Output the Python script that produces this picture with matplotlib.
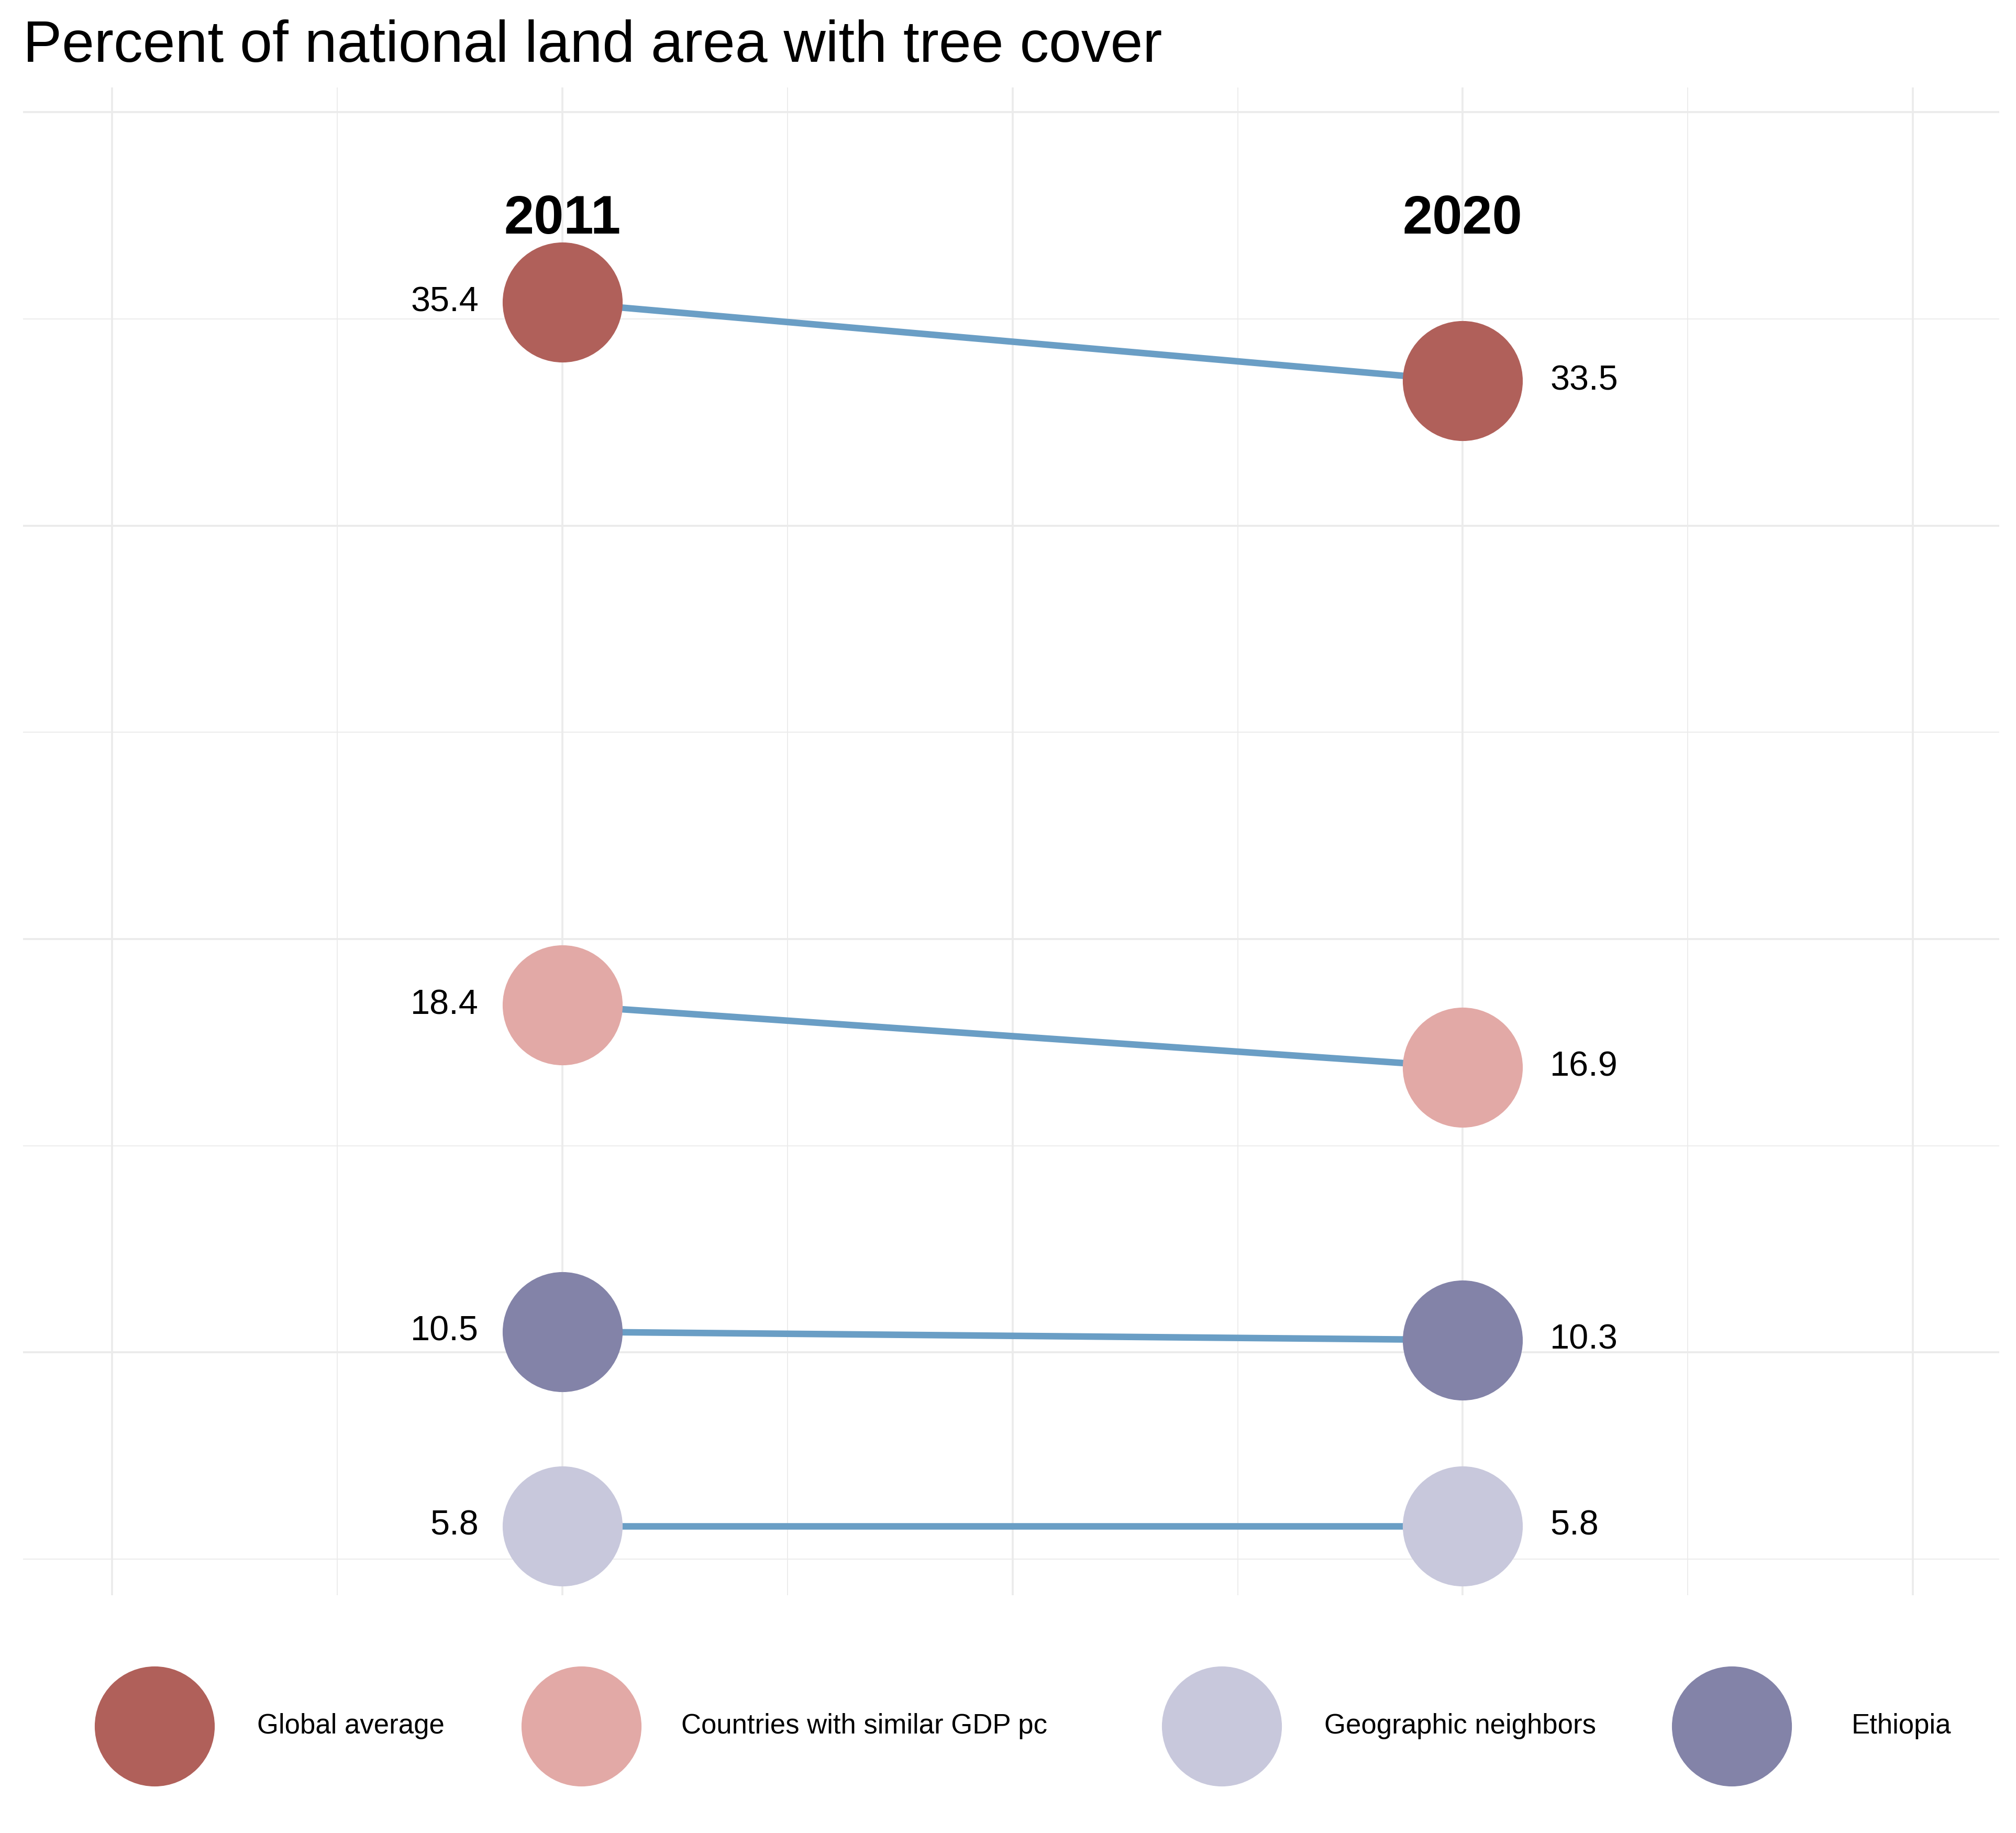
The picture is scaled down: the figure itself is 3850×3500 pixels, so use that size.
import matplotlib
matplotlib.use("Agg")
import matplotlib.pyplot as plt

plt.rcParams['font.family'] = ['Liberation Sans', 'DejaVu Sans']

groups = ["Global average", "Countries with similar GDP pc", "Geographic neighbors", "Ethiopia"]
colors = ["#b0605a", "#e2a9a6", "#c8c8dc", "#8383a8"]
years = ["2011", "2020"]
v2011 = [35.4, 18.4, 5.8, 10.5]
v2020 = [33.5, 16.9, 5.8, 10.3]

W, H = 3850, 3500
fig = plt.figure(figsize=(W/100, H/100), dpi=100)
ax = fig.add_axes([18/1568, 1-1240/1425, (1555-18)/1568, (1240-68)/1425])
ax.set_xlim(0.401, 2.596)
ax.set_ylim(4.13, 40.6)
for s in ax.spines.values():
    s.set_visible(False)
ax.set_xticks([])
ax.set_yticks([])
for x in [0.5, 1, 1.5, 2, 2.5]:
    ax.axvline(x, color="#ebebeb", lw=2.7, zorder=0)
for x in [0.75, 1.25, 1.75, 2.25]:
    ax.axvline(x, color="#ebebeb", lw=1.3, zorder=0)
for y in [10, 20, 30, 40]:
    ax.axhline(y, color="#ebebeb", lw=2.7, zorder=0)
for y in [5, 15, 25, 35]:
    ax.axhline(y, color="#ebebeb", lw=1.3, zorder=0)

for g, c, a, b in zip(groups, colors, v2011, v2020):
    ax.plot([1, 2], [a, b], color="#6a9ec5", lw=9, zorder=2, solid_capstyle="butt")
    ax.scatter([1, 2], [a, b], s=165**2, color=c, zorder=3, linewidths=0)
    ax.text(0.907, a, f"{a:.1f}", ha="right", va="center", fontsize=48, zorder=4)
    ax.text(2.097, b, f"{b:.1f}", ha="left", va="center", fontsize=48, zorder=4)

ax.text(1, 37.4, years[0], ha="center", va="center", fontsize=74, fontweight="bold")
ax.text(2, 37.4, years[1], ha="center", va="center", fontsize=74, fontweight="bold")

fig.text(18/1568, 1-48/1425, "Percent of national land area with tree cover",
         ha="left", va="baseline", fontsize=80)

lax = fig.add_axes([0, 0, 1, 1], facecolor="none")
lax.set_xlim(0, 1568)
lax.set_ylim(1425, 0)
lax.axis("off")
mx = [120, 452, 950, 1347]
tx = [200, 530, 1030, 1440]
for g, c, m, t in zip(groups, colors, mx, tx):
    lax.scatter([m], [1342], s=165**2, color=c, linewidths=0)
    lax.text(t, 1342, g, ha="left", va="center", fontsize=38)

fig.savefig("out.png", dpi=100)
